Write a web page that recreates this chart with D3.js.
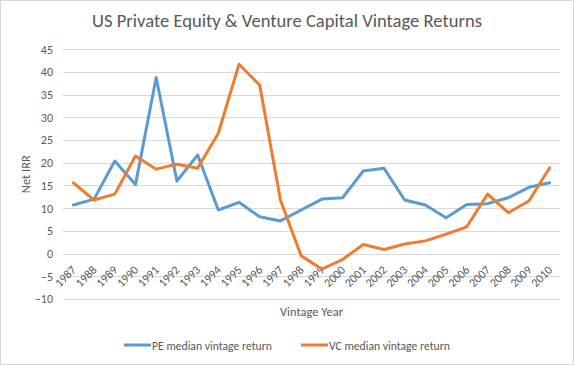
<!DOCTYPE html>
<html>
<head>
<meta charset="utf-8">
<script src="https://cdn.jsdelivr.net/npm/d3@7"></script>
<style>
  body { margin: 0; background: #fff; }
  text { font-family: Carlito, Calibri, "Open Sans", sans-serif; fill: #595959; }
</style>
</head>
<body>
<script>
var w = 574,
    h = 365;

// data
var years = ["1987", "1988", "1989", "1990", "1991", "1992", "1993", "1994", "1995", "1996", "1997", "1998",
             "1999", "2000", "2001", "2002", "2003", "2004", "2005", "2006", "2007", "2008", "2009", "2010"];
var peReturns = [10.7, 12.0, 20.4, 15.2, 38.8, 16.0, 21.7, 9.6, 11.3, 8.1, 7.2, 9.6,
                 12.0, 12.3, 18.2, 18.8, 11.8, 10.7, 7.9, 10.8, 11.0, 12.3, 14.6, 15.6];
var vcReturns = [15.6, 11.8, 13.1, 21.5, 18.6, 19.7, 18.8, 26.5, 41.7, 37.1, 11.8, -0.5,
                 -3.4, -1.3, 2.0, 0.9, 2.1, 2.8, 4.3, 5.9, 13.1, 9.0, 11.6, 18.9];
var yTicks = [-10, -5, 0, 5, 10, 15, 20, 25, 30, 35, 40, 45];
var seriesNames = ["PE median vintage return", "VC median vintage return"];
var colors = ["#5b9bd5", "#ed7d31"];

var svg = d3.select("body")
    .append("svg")
    .attr("width", w)
    .attr("height", h);

svg.append("rect")
    .attr("x", 0.5).attr("y", 0.5)
    .attr("width", w - 1).attr("height", h - 1)
    .attr("fill", "#fff")
    .attr("stroke", "#d9d9d9");

var plotLeft = 63, plotRight = 560, plotTop = 49.3, plotBottom = 299;

var x = d3.scaleBand().domain(years).range([plotLeft, plotRight]);
var y = d3.scaleLinear().domain([-10, 45]).range([plotBottom, plotTop]);

// gridlines
svg.append("g")
    .selectAll("line")
    .data(yTicks)
    .enter()
    .append("line")
    .attr("x1", plotLeft).attr("x2", plotRight)
    .attr("y1", function(d) { return Math.round(y(d)) + 0.5; })
    .attr("y2", function(d) { return Math.round(y(d)) + 0.5; })
    .attr("stroke", "#d9d9d9")
    .attr("stroke-width", 1);

// y axis labels
var yAxis = svg.append("g")
    .attr("transform", "translate(" + (plotLeft - 10) + ",0)")
    .call(d3.axisLeft(y).tickValues(yTicks).tickSize(0).tickPadding(0));
yAxis.select(".domain").remove();
yAxis.selectAll("text")
    .style("font-size", "12px")
    .attr("fill", null);

// x axis labels, rotated, hanging under the zero line
var xAxis = svg.append("g")
    .attr("transform", "translate(0," + y(0) + ")")
    .call(d3.axisBottom(x).tickSize(0).tickPadding(0));
xAxis.select(".domain").remove();
xAxis.selectAll("text")
    .style("font-size", "12px")
    .attr("fill", null)
    .attr("text-anchor", "end")
    .attr("dy", null)
    .attr("y", 0)
    .attr("transform", "translate(3.5,17) rotate(-45)");
xAxis.attr("font-family", null).attr("font-size", null);
yAxis.attr("font-family", null).attr("font-size", null);

// axis titles
svg.append("text")
    .attr("x", (plotLeft + plotRight) / 2)
    .attr("y", 316)
    .attr("text-anchor", "middle")
    .style("font-size", "12.5px")
    .text("Vintage Year");

svg.append("text")
    .attr("transform", "translate(30," + ((plotTop + plotBottom) / 2) + ") rotate(-90)")
    .attr("text-anchor", "middle")
    .style("font-size", "12.5px")
    .text("Net IRR");

// title
svg.append("text")
    .attr("x", 287)
    .attr("y", 27)
    .attr("text-anchor", "middle")
    .style("font-size", "18.6px")
    .text("US Private Equity & Venture Capital Vintage Returns");

// lines
var line = d3.line()
    .x(function(d, i) { return x(years[i]) + x.bandwidth() / 2; })
    .y(function(d) { return y(d); });

[peReturns, vcReturns].forEach(function(vals, i) {
    svg.append("path")
        .datum(vals)
        .attr("d", line)
        .attr("fill", "none")
        .attr("stroke", colors[i])
        .attr("stroke-width", 3)
        .attr("stroke-linejoin", "round")
        .attr("stroke-linecap", "round");
});

// legend
var legendX = [124, 301];
seriesNames.forEach(function(name, i) {
    var g = svg.append("g").attr("transform", "translate(" + legendX[i] + ",345)");
    g.append("line")
        .attr("x1", 0).attr("x2", 27)
        .attr("stroke", colors[i])
        .attr("stroke-width", 3);
    g.append("text")
        .attr("x", 28)
        .attr("y", 4.5)
        .style("font-size", "11.7px")
        .text(name);
});
</script>
</body>
</html>
